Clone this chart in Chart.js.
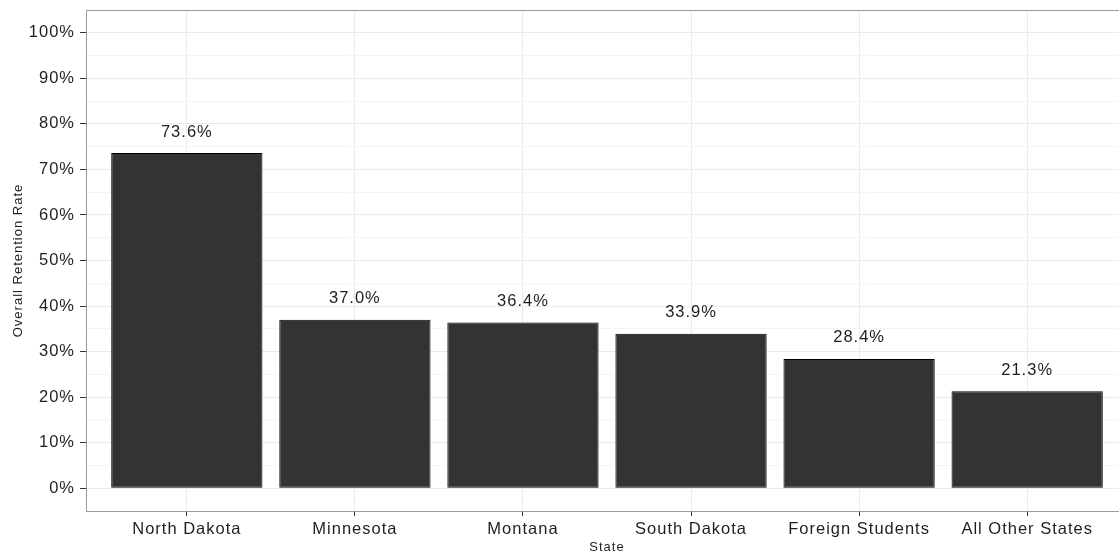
<!DOCTYPE html>
<html>
<head>
<meta charset="utf-8">
<script src="https://cdn.jsdelivr.net/npm/chart.js@4"></script>
<style>
  html, body { margin: 0; padding: 0; background: #fff; overflow: hidden; }
  #wrap { width: 1140px; height: 556px; }
</style>
</head>
<body>
<div id="wrap"><canvas id="retentionChart"></canvas></div>
<script>
// Data
const states = ['North Dakota', 'Minnesota', 'Montana', 'South Dakota', 'Foreign Students', 'All Other States'];
const retention = [73.6, 37.0, 36.4, 33.9, 28.4, 21.3];
const yTicks = [0, 10, 20, 30, 40, 50, 60, 70, 80, 90, 100];

const textColor = '#1f1f1f';
const fontFamily = '"Liberation Sans", Arial, sans-serif';
const clear = 'rgba(0,0,0,0)';

// The reference text is rendered a bit wider than Liberation Sans, so spread it slightly
const spacing = {
    id: 'spacing',
    beforeUpdate(chart) { chart.ctx.letterSpacing = '1px'; },
    beforeLayout(chart) { chart.ctx.letterSpacing = '1px'; },
    beforeDraw(chart) { chart.ctx.letterSpacing = '1px'; }
};

// Value labels above the bars
const valueLabels = {
    id: 'valueLabels',
    afterDatasetsDraw(chart) {
        const ctx = chart.ctx;
        const meta = chart.getDatasetMeta(0);
        ctx.save();
        ctx.fillStyle = textColor;
        ctx.font = '16.5px ' + fontFamily;
        ctx.textAlign = 'center';
        ctx.textBaseline = 'middle';
        meta.data.forEach((bar, i) => {
            ctx.fillText(retention[i].toFixed(1) + '%', bar.x, bar.y - 21);
        });
        ctx.restore();
    }
};

// Panel border like ggplot theme_bw
const panelBorder = {
    id: 'panelBorder',
    afterDraw(chart) {
        const {ctx, chartArea: a} = chart;
        ctx.save();
        ctx.strokeStyle = '#9a9a9a';
        ctx.lineWidth = 1;
        ctx.strokeRect(a.left + 0.5, a.top + 0.5, a.right - a.left, a.bottom - a.top);
        ctx.restore();
    }
};

const tickVal = c => (c && c.tick) ? c.tick.value : null;
const isMajor = v => yTicks.includes(v);
const isCat = v => v !== null && Number.isInteger(v) && v >= 0 && v < states.length;

const noPad = s => {
    s.paddingTop = 0;
    s.paddingBottom = 0;
    s.paddingLeft = 0;
    s.paddingRight = 0;
};

new Chart(document.getElementById('retentionChart'), {
    type: 'bar',
    data: {
        datasets: [{
            data: retention.map((v, i) => ({x: i, y: v})),
            backgroundColor: '#333333',
            borderColor: '#000000',
            borderWidth: 1,
            borderSkipped: false,
            barPercentage: 0.9,
            categoryPercentage: 1
        }]
    },
    options: {
        responsive: true,
        maintainAspectRatio: false,
        animation: false,
        layout: { padding: { top: 10, right: 12, left: 0, bottom: 0 } },
        plugins: {
            legend: { display: false },
            tooltip: { enabled: false }
        },
        scales: {
            x: {
                type: 'linear',
                min: -0.6,
                max: 5.6,
                offset: false,
                afterFit: s => { s.height = 45; noPad(s); },
                border: { display: false },
                grid: {
                    offset: false,
                    color: c => isCat(tickVal(c)) ? '#ebebeb' : clear,
                    tickColor: c => isCat(tickVal(c)) ? '#333333' : clear,
                    tickLength: 5,
                    lineWidth: 1
                },
                ticks: {
                    stepSize: 1,
                    includeBounds: false,
                    autoSkip: false,
                    maxRotation: 0,
                    padding: 4,
                    color: textColor,
                    font: { size: 16.5, family: fontFamily },
                    callback: v => isCat(v) ? states[v] : ''
                },
                title: {
                    display: true,
                    text: 'State',
                    color: textColor,
                    font: { size: 13, family: fontFamily },
                    padding: { top: 0, bottom: 1 }
                }
            },
            y: {
                min: -5,
                max: 105,
                afterFit: s => { s.width = 86; noPad(s); },
                border: { display: false },
                grid: {
                    color: c => isMajor(tickVal(c)) ? '#ebebeb' : '#f5f5f5',
                    tickColor: c => isMajor(tickVal(c)) ? '#333333' : clear,
                    tickLength: 6,
                    lineWidth: 1
                },
                ticks: {
                    stepSize: 5,
                    includeBounds: false,
                    autoSkip: false,
                    padding: 5,
                    color: textColor,
                    font: { size: 16.5, family: fontFamily },
                    callback: v => isMajor(v) ? v + '%' : ''
                },
                title: {
                    display: true,
                    text: 'Overall Retention Rate',
                    color: textColor,
                    font: { size: 13, family: fontFamily },
                    padding: { top: 11, bottom: 0 }
                }
            }
        }
    },
    plugins: [spacing, valueLabels, panelBorder]
});
</script>
</body>
</html>
